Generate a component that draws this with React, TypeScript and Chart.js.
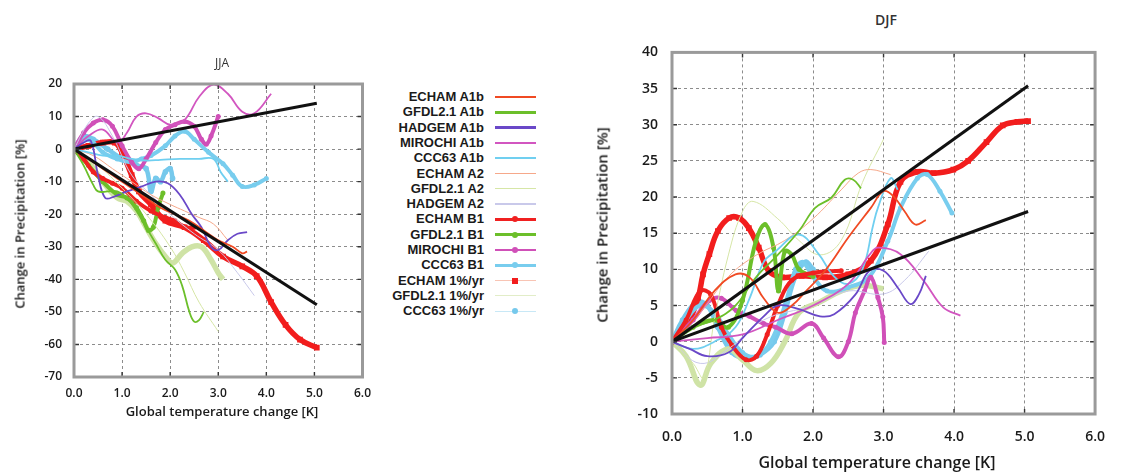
import React, { useEffect, useRef } from "react";
import { Chart, registerables } from "chart.js";

Chart.register(...registerables);

type P = [number, number];

// ---------- axis ticks ----------
const X_TICKS = [0, 1, 2, 3, 4, 5, 6];
const JJA_Y_RANGE = [-70, 20];
const DJF_Y_RANGE = [-10, 40];

// ---------- regression lines ----------
const jjaFitUp: P[] = [[0, 0], [5.05, 14.1]];
const jjaFitDown: P[] = [[0, 0], [5.05, -47.8]];
const djfFitUp: P[] = [[0, 0], [5.05, 35.4]];
const djfFitDown: P[] = [[0, 0], [5.05, 18.0]];

// ---------- JJA series ----------
const jjaEchamA1b: P[] = [[0, 0], [0.3, -3], [0.6, -6], [0.9, -9], [1.2, -12], [1.5, -15], [1.8, -18], [2.1, -20], [2.4, -22], [2.7, -25], [3.0, -28], [3.3, -30], [3.5, -32], [3.6, -31.5]];
const jjaGfdlA1b: P[] = [[0, 0], [0.2, -5], [0.4, -11], [0.5, -13], [0.7, -13], [0.9, -13], [1.1, -15], [1.3, -19], [1.5, -24], [1.7, -29], [1.9, -34], [2.1, -37], [2.25, -42], [2.4, -50], [2.5, -53], [2.6, -52.5], [2.7, -50]];
const jjaHadgemA1b: P[] = [[0, 0], [0.2, 2], [0.35, 2.5], [0.5, -8], [0.65, -15], [0.85, -14.5], [1.1, -13], [1.4, -11.5], [1.7, -10], [1.95, -10.5], [2.2, -14], [2.45, -20], [2.65, -24], [2.85, -30], [3.0, -31], [3.2, -28], [3.4, -26], [3.6, -25.5]];
const jjaMirochiA1b: P[] = [[0, 0], [0.3, 4], [0.6, 6], [0.9, 2], [1.1, 5], [1.3, 10], [1.5, 11], [1.75, 9.5], [2.0, 7.5], [2.3, 9], [2.6, 16], [2.9, 19.8], [3.2, 17], [3.5, 11.5], [3.75, 11], [4.1, 17]];
const jjaCccA1b: P[] = [[0, 0], [0.3, -1], [0.6, -2], [0.9, -2], [1.2, -3], [1.5, -3.5], [1.8, -3.3], [2.2, -3], [2.6, -3], [2.9, -3], [3.05, -7], [3.2, -10]];
const jjaEchamA2: P[] = [[0, 0], [0.4, -2], [0.8, -6], [1.2, -10], [1.6, -14], [2.0, -17], [2.3, -19], [2.6, -21], [2.9, -23], [3.2, -28]];
const jjaGfdlA2: P[] = [[0, 0], [0.5, -5], [1.0, -12], [1.5, -20], [2.0, -30], [2.3, -38], [2.6, -47], [3.0, -56]];
const jjaHadgemA2: P[] = [[0, 0], [0.3, 8], [0.5, 10], [0.8, 4], [1.2, -8], [1.6, -14], [2.0, -20], [2.5, -26], [3.0, -31], [3.4, -38], [3.75, -45]];
const jjaEchamB1: P[] = [[0, 0], [0.2, -3], [0.4, -7], [0.6, -9], [0.8, -10.5], [1.0, -12], [1.3, -16], [1.6, -19], [1.9, -21], [2.1, -22], [2.3, -24], [2.5, -24]];
const jjaGfdlB1: P[] = [[0, 0], [0.3, -5], [0.6, -10], [0.9, -14], [1.1, -15], [1.3, -18], [1.45, -22], [1.55, -25], [1.65, -24], [1.75, -18], [1.85, -13.5]];
const jjaMirochiB1: P[] = [[0, 0], [0.2, 5], [0.4, 8], [0.6, 9], [0.8, 7], [1.0, 1], [1.2, -4], [1.35, -6], [1.5, -3], [1.7, 2], [1.9, 6], [2.1, 7.5], [2.3, 8.5], [2.5, 7], [2.65, 3], [2.75, 1.5], [2.85, 4], [3.0, 10]];
const jjaCccB1: P[] = [[0, 0], [0.2, 3], [0.4, 2], [0.6, -1], [0.9, -3], [1.2, -4], [1.4, -3], [1.6, -2], [1.9, 1], [2.1, 4], [2.3, 5.5], [2.5, 3], [2.8, -1], [3.1, -4.5], [3.3, -8], [3.5, -11.5], [3.75, -11], [4.0, -9]];
const jjaEchamPct: P[] = [[0, 0], [0.3, 1], [0.6, 2], [0.85, 2], [1.0, -1], [1.2, -8], [1.35, -13], [1.6, -17], [1.9, -22], [2.3, -24], [2.7, -28], [3.1, -33], [3.5, -36], [3.8, -39], [4.1, -47], [4.4, -54], [4.7, -58.5], [5.05, -61]];
const jjaGfdlPct: P[] = [[0, 0], [0.3, -4], [0.6, -10], [0.9, -15], [1.1, -16], [1.3, -19], [1.5, -24], [1.7, -29], [1.9, -33], [2.05, -35], [2.25, -32], [2.45, -30], [2.65, -30], [2.85, -34], [3.0, -38], [3.1, -40]];
const jjaCccPct: P[] = [[0, 0], [0.2, 4], [0.4, 3], [0.7, 0], [1.0, -3], [1.3, -5], [1.5, -6], [1.6, -13], [1.7, -9], [1.8, -10], [1.9, -7], [2.0, -6], [2.05, -9]];

// ---------- DJF series ----------
const djfEchamA1b: P[] = [[0, 0], [0.3, 3], [0.6, 7], [0.9, 9.3], [1.1, 8.9], [1.3, 6], [1.5, 4], [1.7, 5], [1.9, 7], [2.17, 9.8], [2.5, 14.4], [2.82, 18.5], [3.0, 20.8], [3.15, 20], [3.3, 18], [3.45, 16.2], [3.6, 16.8]];
const djfGfdlA1b: P[] = [[0, 0], [0.3, 2], [0.6, 3], [0.9, 5], [1.2, 9], [1.5, 12], [1.8, 15.3], [2.03, 18.5], [2.26, 19.9], [2.45, 22.4], [2.57, 22.4], [2.68, 21.2]];
const djfHadgemA1b: P[] = [[0, 0], [0.25, -1], [0.5, -2], [0.8, -1.5], [1.0, 0.5], [1.3, 3.5], [1.5, 5], [1.8, 4.5], [2.1, 3.5], [2.3, 3.8], [2.6, 6.5], [2.8, 9.8], [3.0, 9.8], [3.2, 7.5], [3.38, 5.2], [3.5, 6.5], [3.6, 9.1]];
const djfMirochiA1b: P[] = [[0, 0], [0.5, 0.5], [1.0, 1], [1.5, 3], [2.0, 5], [2.5, 8], [2.8, 12], [2.92, 13], [3.24, 12.1], [3.57, 8.4], [3.85, 4.7], [4.09, 3.6]];
const djfCccA1b: P[] = [[0, 0], [0.3, -1], [0.6, 0], [0.9, 2], [1.1, 6], [1.3, 11], [1.47, 12.5], [1.8, 14.8], [2.08, 12.1], [2.3, 9], [2.5, 8], [2.7, 10], [2.85, 16], [2.92, 18.5], [3.1, 22.6], [3.2, 21]];
const djfEchamA2: P[] = [[0, 0], [0.4, 4], [0.8, 9], [1.2, 12], [1.6, 14], [2.0, 17], [2.4, 21], [2.64, 23.3], [2.82, 23.8], [3.1, 23.1]];
const djfGfdlA2: P[] = [[0, 0], [0.3, -3], [0.45, -5], [0.6, 3], [0.8, 12], [1.0, 18], [1.15, 19.4], [1.5, 17], [1.8, 14], [2.1, 12], [2.4, 14], [2.7, 22], [3.0, 28]];
const djfHadgemA2: P[] = [[0, 0], [0.4, -3], [0.8, -1], [1.3, 3], [2.0, 5], [2.5, 7], [3.0, 6.6], [3.3, 8.5], [3.64, 12.5]];
const djfEchamB1: P[] = [[0, 0], [0.2, 3], [0.4, 7], [0.55, 6.5], [0.7, 2], [0.85, -0.5], [1.05, -2.5], [1.2, -2], [1.35, 1], [1.5, 5], [1.7, 8.5], [2.0, 9.5], [2.4, 9.8]];
const djfGfdlB1: P[] = [[0, 0], [0.3, 2], [0.6, 3], [0.8, 2], [1.0, 5.7], [1.19, 13.9], [1.32, 16.2], [1.44, 13], [1.51, 7], [1.6, 12.5], [1.7, 12], [1.8, 10], [2.0, 9]];
const djfMirochiB1: P[] = [[0, 0], [0.3, 3], [0.53, 5.7], [0.7, 6], [0.91, 4.3], [1.1, 3.5], [1.3, 2.5], [1.47, 2], [1.7, 1.1], [1.98, 2.5], [2.15, 0.5], [2.36, -2.1], [2.5, 0], [2.6, 4], [2.73, 7], [2.82, 8.9], [2.92, 6.1], [2.99, 3.4], [3.01, -0.1]];
const djfCccB1: P[] = [[0, 0], [0.2, 3], [0.4, 5], [0.6, 4], [0.8, 1], [1.0, -1.5], [1.2, -2], [1.4, 0], [1.6, 5], [1.75, 10], [1.85, 11], [2.0, 9], [2.2, 7], [2.5, 7.5], [2.8, 9], [3.06, 13.9], [3.24, 18.5], [3.48, 22.6], [3.62, 23.1], [3.8, 20.8], [3.97, 17.8]];
const djfEchamPct: P[] = [[0, 0], [0.2, 2], [0.37, 6.1], [0.44, 9.3], [0.53, 12.1], [0.65, 15.3], [0.81, 17.1], [0.95, 17.1], [1.09, 15.7], [1.23, 13], [1.37, 9.8], [1.56, 8.9], [1.84, 9.1], [2.17, 8.9], [2.5, 9.3], [2.82, 11.2], [3.06, 16.2], [3.24, 22.1], [3.48, 23.5], [3.71, 23.3], [3.99, 23.8], [4.2, 25], [4.46, 27.6], [4.69, 29.9], [4.9, 30.4], [5.05, 30.5]];
const djfGfdlPct: P[] = [[0, 0], [0.2, -2], [0.4, -6], [0.55, -3], [0.8, -1], [1.0, -2.5], [1.2, -4], [1.4, -3], [1.6, 0], [1.8, 4], [2.1, 5.5], [2.4, 7], [2.7, 7.8], [3.0, 7.3]];
const djfCccPct: P[] = [[0, 0], [0.15, 3], [0.35, 5.5], [0.5, 5], [0.65, 2], [0.85, -1.5], [1.05, -2.3], [1.25, -1.8], [1.45, 0], [1.6, 4], [1.75, 9], [1.9, 11], [2.0, 10]];

// ---------- legend / series names ----------
const SERIES_NAMES = [
  "ECHAM A1b", "GFDL2.1 A1b", "HADGEM A1b", "MIROCHI A1b", "CCC63 A1b",
  "ECHAM A2", "GFDL2.1 A2", "HADGEM A2",
  "ECHAM B1", "GFDL2.1 B1", "MIROCHI B1", "CCC63 B1",
  "ECHAM 1%/yr", "GFDL2.1 1%/yr", "CCC63 1%/yr",
];
const JJA_DATA: P[][] = [jjaEchamA1b, jjaGfdlA1b, jjaHadgemA1b, jjaMirochiA1b, jjaCccA1b, jjaEchamA2, jjaGfdlA2, jjaHadgemA2, jjaEchamB1, jjaGfdlB1, jjaMirochiB1, jjaCccB1, jjaEchamPct, jjaGfdlPct, jjaCccPct];
const DJF_DATA: P[][] = [djfEchamA1b, djfGfdlA1b, djfHadgemA1b, djfMirochiA1b, djfCccA1b, djfEchamA2, djfGfdlA2, djfHadgemA2, djfEchamB1, djfGfdlB1, djfMirochiB1, djfCccB1, djfEchamPct, djfGfdlPct, djfCccPct];

type Kind = "a1b" | "a2" | "b1" | "pctSq" | "pctPale" | "pctDot";
const STYLES: { color: string; kind: Kind; legendLine?: string }[] = [
  { color: "#f04a23", kind: "a1b" },
  { color: "#6cbf2a", kind: "a1b" },
  { color: "#6a48c8", kind: "a1b" },
  { color: "#d256c0", kind: "a1b" },
  { color: "#70cff0", kind: "a1b" },
  { color: "#f6a88a", kind: "a2" },
  { color: "#d6e6a6", kind: "a2" },
  { color: "#c9c9ea", kind: "a2" },
  { color: "#f02020", kind: "b1" },
  { color: "#6cbf2a", kind: "b1" },
  { color: "#d050b8", kind: "b1" },
  { color: "#78cdee", kind: "b1" },
  { color: "#f21d1d", kind: "pctSq", legendLine: "#f8c4b4" },
  { color: "#cfe3a6", kind: "pctPale", legendLine: "#e2edc8" },
  { color: "#76c9ec", kind: "pctDot", legendLine: "#c8e8f6" },
];

const FONT = "'Open Sans', 'Noto Sans', sans-serif";

function datasetFor(name: string, pts: P[], st: { color: string; kind: Kind }) {
  const base: any = {
    label: name,
    data: pts.map(([x, y]) => ({ x, y })),
    borderColor: st.color,
    backgroundColor: st.color,
    pointBorderWidth: 0,
    tension: 0.4,
    fill: false,
  };
  switch (st.kind) {
    case "a1b":
      return { ...base, borderWidth: 1.8, pointRadius: 0 };
    case "a2":
      return { ...base, borderWidth: 1, pointRadius: 0 };
    case "b1":
      return { ...base, borderWidth: 4, pointRadius: 2.5, pointStyle: "circle" };
    case "pctSq":
      return { ...base, borderWidth: 5.5, pointRadius: 4, pointStyle: "rect" };
    case "pctPale":
      return { ...base, borderWidth: 5.5, pointRadius: 0 };
    case "pctDot":
      return { ...base, borderWidth: 4.5, pointRadius: 2.8, pointStyle: "circle" };
  }
}

function fitDataset(pts: P[]) {
  return {
    label: "fit",
    data: pts.map(([x, y]) => ({ x, y })),
    borderColor: "#111111",
    borderWidth: 3,
    pointRadius: 0,
    tension: 0,
  };
}

const framePlugin = {
  id: "frame",
  afterDraw(chart: any) {
    const { ctx, chartArea: a, scales } = chart;
    ctx.save();
    ctx.strokeStyle = "#333";
    ctx.lineWidth = 1.4;
    ctx.beginPath();
    scales.x.ticks.forEach((t: any) => {
      const px = scales.x.getPixelForValue(t.value);
      ctx.moveTo(px, a.top); ctx.lineTo(px, a.top + 5);
      ctx.moveTo(px, a.bottom); ctx.lineTo(px, a.bottom - 5);
    });
    scales.y.ticks.forEach((t: any) => {
      const py = scales.y.getPixelForValue(t.value);
      ctx.moveTo(a.left, py); ctx.lineTo(a.left + 5, py);
      ctx.moveTo(a.right, py); ctx.lineTo(a.right - 5, py);
    });
    ctx.stroke();
    ctx.strokeStyle = "#9a9a9a";
    ctx.lineWidth = 3;
    ctx.strokeRect(a.left, a.top, a.right - a.left, a.bottom - a.top);
    ctx.restore();
  },
};

function makeConfig(opts: {
  data: P[][]; fits: P[][]; yRange: number[]; yStep: number;
  yWidth: number; xHeight: number; padTop: number; padRight: number;
  fontSize: number; xPad: number; yPad: number;
}) {
  const datasets: any[] = [];
  opts.fits.forEach((f) => datasets.push(fitDataset(f)));
  opts.data.forEach((pts, i) => datasets.push(datasetFor(SERIES_NAMES[i], pts, STYLES[i])));
  const tickFont = { family: FONT, size: opts.fontSize, weight: "600" as any };
  return {
    type: "line" as const,
    data: { datasets },
    options: {
      responsive: false,
      animation: false as const,
      layout: { padding: { top: opts.padTop, right: opts.padRight, left: 0, bottom: 0 } },
      plugins: { legend: { display: false }, tooltip: { enabled: false }, title: { display: false } },
      scales: {
        x: {
          type: "linear" as const,
          min: X_TICKS[0],
          max: X_TICKS[X_TICKS.length - 1],
          afterBuildTicks: (s: any) => { s.ticks = X_TICKS.map((v) => ({ value: v })); },
          afterFit: (s: any) => { s.height = opts.xHeight; },
          ticks: {
            callback: (v: any) => Number(v).toFixed(1),
            font: tickFont, color: "#1a1a1a", padding: opts.xPad, maxRotation: 0,
          },
          grid: { color: "#8c8c8c", lineWidth: 1, drawTicks: false },
          border: { display: false, dash: [3, 3] },
        },
        y: {
          type: "linear" as const,
          min: opts.yRange[0],
          max: opts.yRange[1],
          afterFit: (s: any) => { s.width = opts.yWidth; },
          ticks: { stepSize: opts.yStep, font: tickFont, color: "#1a1a1a", padding: opts.yPad },
          grid: { color: "#8c8c8c", lineWidth: 1, drawTicks: false },
          border: { display: false, dash: [3, 3] },
        },
      },
    },
    plugins: [framePlugin],
  };
}

function ChartCanvas(props: { config: any; left: number; top: number; width: number; height: number }) {
  const ref = useRef<HTMLCanvasElement | null>(null);
  useEffect(() => {
    if (!ref.current) return;
    const c = new Chart(ref.current, props.config);
    return () => c.destroy();
  }, []);
  return (
    <canvas
      ref={ref}
      width={props.width}
      height={props.height}
      style={{ position: "absolute", left: props.left, top: props.top, width: props.width, height: props.height }}
    />
  );
}

function Legend() {
  return (
    <div style={{ position: "absolute", left: 380, top: 0 }}>
      {SERIES_NAMES.map((name, i) => {
        const st = STYLES[i];
        const top = 97 + i * 15.3 - 8;
        const lineColor = st.legendLine || st.color;
        const lw = st.kind === "a1b" || st.kind === "b1" ? 2.5 : 1.2;
        return (
          <div key={name} style={{ position: "absolute", left: 0, top, width: 160, height: 16 }}>
            <div style={{
              position: "absolute", left: 0, width: 104, top: 0, height: 16, lineHeight: "16px",
              textAlign: "right", fontFamily: "'Liberation Sans', Arial, sans-serif", fontWeight: 700,
              fontSize: 13, color: "#1a1a1a", whiteSpace: "nowrap",
            }}>{name}</div>
            <div style={{ position: "absolute", left: 115, width: 41, top: 8 - lw / 2, height: lw, background: lineColor }} />
            {st.kind === "b1" || st.kind === "pctDot" ? (
              <div style={{ position: "absolute", left: 132, top: 5, width: 6, height: 6, borderRadius: 3, background: st.color }} />
            ) : null}
            {st.kind === "pctSq" ? (
              <div style={{ position: "absolute", left: 132, top: 5, width: 6, height: 6, background: st.color }} />
            ) : null}
          </div>
        );
      })}
    </div>
  );
}

const textBase: React.CSSProperties = {
  position: "absolute", fontFamily: FONT, fontWeight: 600, color: "#1a1a1a", whiteSpace: "nowrap",
};

function Label(p: { text: string; cx: number; cy: number; size: number; rotate?: boolean; weight?: number; color?: string }) {
  return (
    <div style={{
      ...textBase,
      fontSize: p.size,
      fontWeight: p.weight ?? 600,
      color: p.color ?? "#1a1a1a",
      left: p.cx, top: p.cy,
      transform: `translate(-50%, -50%)${p.rotate ? " rotate(-90deg)" : ""}`,
      lineHeight: 1,
    }}>{p.text}</div>
  );
}

export default function App() {
  const jjaConfig = makeConfig({
    data: JJA_DATA, fits: [jjaFitUp, jjaFitDown], yRange: JJA_Y_RANGE, yStep: 10,
    yWidth: 74, xHeight: 53, padTop: 34, padRight: 12, fontSize: 12, xPad: 9, yPad: 12,
  });
  const djfConfig = makeConfig({
    data: DJF_DATA, fits: [djfFitUp, djfFitDown], yRange: DJF_Y_RANGE, yStep: 5,
    yWidth: 82, xHeight: 56, padTop: 20, padRight: 20, fontSize: 14, xPad: 15, yPad: 14,
  });
  return (
    <div style={{ position: "absolute", left: 0, top: 0, width: 1128, height: 472, background: "#fff", overflow: "hidden" }}>
      <ChartCanvas config={jjaConfig} left={0} top={50} width={380} height={380} />
      <ChartCanvas config={djfConfig} left={590} top={30} width={530} height={440} />
      <Label text="JJA" cx={222} cy={63} size={12} weight={500} color="#333" />
      <Label text="DJF" cx={886} cy={20} size={14} weight={600} color="#333" />
      <Label text="Change in Precipitation [%]" cx={20} cy={224} size={13} rotate />
      <Label text="Global temperature change [K]" cx={222} cy={411} size={13} />
      <Label text="Change in Precipitation [%]" cx={602} cy={225} size={15} rotate />
      <Label text="Global temperature change [K]" cx={877} cy={462} size={16} />
      <Legend />
    </div>
  );
}
